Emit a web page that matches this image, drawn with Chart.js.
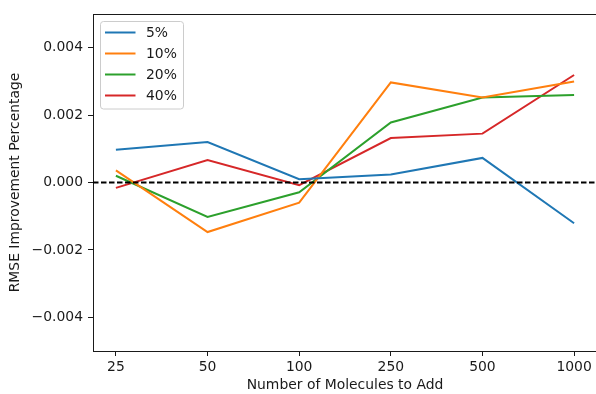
<!DOCTYPE html>
<html>
<head>
<meta charset="utf-8">
<script src="https://cdn.jsdelivr.net/npm/chart.js@4"></script>
<style>
  html, body { margin: 0; padding: 0; background: #fff; overflow: hidden; }
  #wrap { width: 598px; height: 394px; position: relative; }
</style>
</head>
<body>
<div id="wrap"><canvas id="c"></canvas></div>
<script>
// Number of molecules added (x categories)
const categories = ['25', '50', '100', '250', '500', '1000'];
const seriesNames = ['5%', '10%', '20%', '40%'];
const yTicks = [-0.004, -0.002, 0, 0.002, 0.004];

// RMSE improvement for each fraction
const pct5  = [0.00097, 0.00120, 0.00010, 0.00024, 0.00073, -0.00121];
const pct10 = [0.00036, -0.00147, -0.00060, 0.00297, 0.00252, 0.00300];
const pct20 = [0.00020, -0.00102, -0.00029, 0.00178, 0.00252, 0.00260];
const pct40 = [-0.00016, 0.00067, -0.00008, 0.00132, 0.00145, 0.00319];

const colors = ['#1f77b4', '#ff7f0e', '#2ca02c', '#d62728'];
const allSeries = [pct5, pct10, pct20, pct40];

const FONT = 'DejaVu Sans';
const FSIZE = 13.9;
const INK = '#1a1a1a';

const datasets = allSeries.map((vals, i) => ({
  label: seriesNames[i],
  data: vals.map((v, k) => ({ x: k, y: v })),
  borderColor: colors[i],
  backgroundColor: colors[i],
  borderWidth: 2,
  pointRadius: 0,
  tension: 0,
  fill: false
}));

function fmt(v) {
  const s = Math.abs(v).toFixed(3);
  return (v < 0 ? '\u2212' : '') + s;
}

const framePlugin = {
  id: 'frame',
  afterDatasetsDraw(chart) {
    const { ctx, chartArea: a, scales } = chart;
    // zero reference line
    const y0 = scales.y.getPixelForValue(0);
    ctx.save();
    ctx.strokeStyle = '#000';
    ctx.lineWidth = 2;
    ctx.setLineDash([5.5, 2.5]);
    ctx.beginPath();
    ctx.moveTo(a.left, y0);
    ctx.lineTo(a.right, y0);
    ctx.stroke();
    ctx.setLineDash([]);
    // frame: top spine
    ctx.lineWidth = 1;
    ctx.strokeStyle = INK;
    ctx.beginPath();
    ctx.moveTo(a.left, a.top + 0.5);
    ctx.lineTo(a.right, a.top + 0.5);
    ctx.stroke();

    // legend box
    const bx = 100.5, by = 21.5, bw = 83, bh = 87.5;
    ctx.fillStyle = 'rgba(255,255,255,0.8)';
    ctx.strokeStyle = '#cccccc';
    ctx.lineWidth = 1;
    ctx.beginPath();
    if (ctx.roundRect) ctx.roundRect(bx, by, bw, bh, 3); else ctx.rect(bx, by, bw, bh);
    ctx.fill();
    ctx.stroke();
    ctx.font = FSIZE + 'px ' + FONT;
    ctx.textBaseline = 'middle';
    ctx.textAlign = 'left';
    chart.data.datasets.forEach((ds, i) => {
      const ly = 32.5 + i * 21;
      ctx.strokeStyle = ds.borderColor;
      ctx.lineWidth = 2;
      ctx.beginPath();
      ctx.moveTo(105, ly);
      ctx.lineTo(135.5, ly);
      ctx.stroke();
      ctx.fillStyle = INK;
      ctx.fillText(ds.label, 146, ly + 1);
    });
    ctx.restore();
  }
};

new Chart(document.getElementById('c'), {
  type: 'line',
  data: { datasets },
  options: {
    responsive: true,
    maintainAspectRatio: false,
    animation: false,
    layout: { padding: { top: 14, right: 1, left: 0, bottom: 0 } },
    plugins: { legend: { display: false }, tooltip: { enabled: false } },
    scales: {
      x: {
        type: 'linear',
        min: -0.25,
        max: 5.25,
        afterBuildTicks(scale) { scale.ticks = categories.map((_, i) => ({ value: i })); },
        afterFit(scale) { scale.height = 43; },
        ticks: {
          callback: (v) => categories[v] ?? '',
          font: { family: FONT, size: FSIZE },
          color: INK,
          padding: 3,
          maxRotation: 0,
          autoSkip: false
        },
        grid: { display: true, drawOnChartArea: false, drawTicks: true, tickLength: 5, color: INK },
        border: { display: true, color: INK, width: 1 },
        title: {
          display: true,
          text: 'Number of Molecules to Add',
          font: { family: FONT, size: FSIZE },
          color: INK,
          padding: { top: 0, bottom: 0 }
        }
      },
      y: {
        min: -0.005,
        max: 0.005,
        afterBuildTicks(scale) { scale.ticks = yTicks.map(v => ({ value: v })); },
        afterFit(scale) { scale.width = 93; },
        ticks: {
          callback: (v) => fmt(v),
          font: { family: FONT, size: FSIZE },
          color: INK,
          padding: 5
        },
        grid: { display: true, drawOnChartArea: false, drawTicks: true, tickLength: 5, color: INK },
        border: { display: true, color: INK, width: 1 },
        title: {
          display: true,
          text: 'RMSE Improvement Percentage',
          font: { family: FONT, size: FSIZE },
          color: INK,
          padding: { top: 7, bottom: 0 }
        }
      }
    }
  },
  plugins: [framePlugin]
});
</script>
</body>
</html>
